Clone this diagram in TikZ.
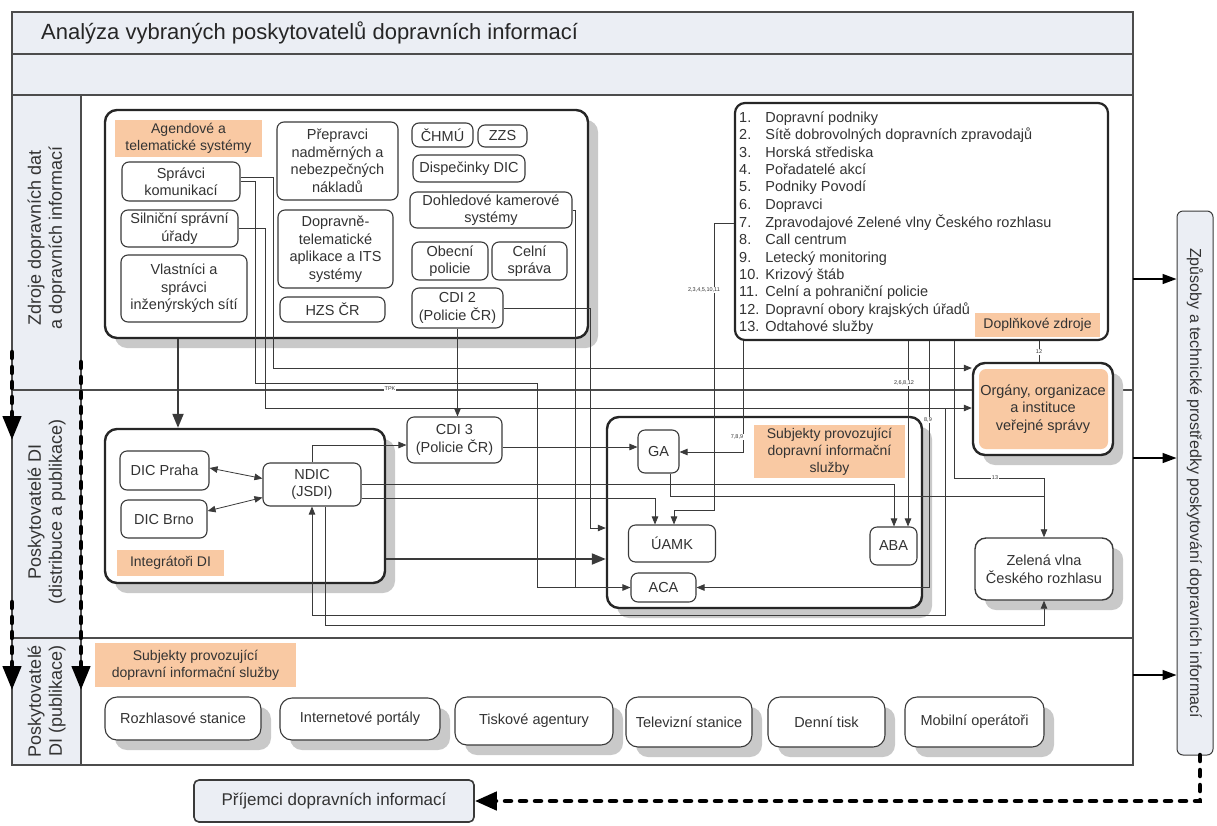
\documentclass[tikz,border=0pt]{standalone}
\usepackage{fontspec}
\setmainfont{Liberation Sans}
\usetikzlibrary{arrows.meta,shadows}
\definecolor{band}{HTML}{EBEEF4}
\definecolor{peach}{HTML}{F9C9A3}
\definecolor{txt}{HTML}{333333}
\definecolor{ln}{HTML}{3A3A3A}
\definecolor{shdcol}{HTML}{C9C9C9}
\tikzset{
 bx/.style={draw=ln, line width=1.1pt, rounded corners=7pt, fill=white, align=center, inner sep=0pt, text=txt, font=\fontsize{14.5}{17.5}\selectfont},
 cont/.style={draw=black!85, line width=2.4pt, rounded corners=12pt, fill=white, inner sep=0pt},
 dropsh/.style={general shadow={fill=shdcol, shadow xshift=10pt, shadow yshift=-10pt}},
 lbl/.style={fill=peach, inner sep=0pt, align=center, text=txt, font=\fontsize{14}{17}\selectfont},
 lb3/.style={bx, dropsh, rounded corners=12pt, font=\fontsize{14.5}{17}\selectfont},
 cn/.style={draw=ln, line width=0.8pt},
 tip/.style={-{Triangle[width=6.5pt,length=8pt]}},
 dtip/.style={{Triangle[width=6.5pt,length=8pt]}-{Triangle[width=6.5pt,length=8pt]}},
 tiny/.style={fill=white, inner sep=0.6pt, font=\fontsize{5.5}{6}\selectfont, text=txt},
 frm/.style={draw=black!70, line width=1.4pt},
 bigdash/.style={draw=black, line width=4.5pt, line cap=round, dash pattern=on 6pt off 9pt},
 bigtip/.style={-{Triangle[width=18pt,length=24pt]}},
 rarr/.style={draw=black, line width=1.5pt, -{Triangle[width=10pt,length=14pt]}},
 lane/.style={align=center, text=txt, font=\fontsize{18}{21}\selectfont},
}
\begin{document}
\begin{tikzpicture}[x=1pt,y=-1pt]
\useasboundingbox (0,0) rectangle (1217,825);

% frame and bands
\fill[band] (12,12) rectangle (1133,95);
\fill[band] (12,95) rectangle (81,765);
\draw[frm] (12,54) -- (1133,54);
\draw[frm] (12,95) -- (1133,95);
\draw[frm] (81,95) -- (81,765);
\draw[frm] (12,390) -- (1133,390);
\draw[frm] (12,638) -- (1133,638);
\draw[frm] (12,12) rectangle (1133,765);

\node[anchor=west, inner sep=0pt, text=black!85, font=\fontsize{22}{26}\selectfont] (title) at (41,33) {Analýza vybraných poskytovatelů dopravních informací};

% lane labels
\node[lane, rotate=90] (l1) at (46.5,238) {Zdroje dopravních dat\\a dopravních informací};
\node[lane, rotate=90] (l2) at (46.5,512) {Poskytovatelé DI\\(distribuce a publikace)};
\node[lane, rotate=90] (l3) at (46.5,701) {Poskytovatelé\\DI (publikace)};

% lane 1
\node[cont, dropsh, minimum width=483pt, minimum height=228pt] (agc) at (346.5,224) {};
\node[lbl, minimum width=147pt, minimum height=37pt] (lagt) at (188.5,138.5) {Agendové a\\telematické systémy};
\node[bx, minimum width=118pt, minimum height=39pt] (sk) at (181,181.5) {Správci\\komunikací};
\node[bx, minimum width=117pt, minimum height=37pt] (ssu) at (179.5,228.5) {Silniční správní\\úřady};
\node[bx, minimum width=126pt, minimum height=67pt] (vs) at (184,288.5) {Vlastníci a\\správci\\inženýrských sítí};
\node[bx, minimum width=121pt, minimum height=78pt] (pnn) at (337.5,161) {Přepravci\\nadměrných a\\nebezpečných\\nákladů};
\node[bx, minimum width=115pt, minimum height=78pt] (dta) at (335.5,249) {Dopravně-\\telematické\\aplikace a ITS\\systémy};
\node[bx, minimum width=105pt, minimum height=25pt] (hzs) at (332.5,309.5) {HZS ČR};
\node[bx, minimum width=61pt, minimum height=24pt] (chmu) at (442.5,135) {ČHMÚ};
\node[bx, minimum width=49pt, minimum height=22pt] (zzs) at (502.5,136) {ZZS};
\node[bx, minimum width=112pt, minimum height=27pt] (disp) at (469,168.5) {Dispečinky DIC};
\node[bx, minimum width=162pt, minimum height=36pt] (dks) at (491,210) {Dohledové kamerové\\systémy};
\node[bx, minimum width=76pt, minimum height=38pt] (op) at (450,261) {Obecní\\policie};
\node[bx, minimum width=75pt, minimum height=38pt] (cs) at (529.5,261) {Celní\\správa};
\node[bx, minimum width=91pt, minimum height=40pt] (cdi2) at (457.5,308) {CDI 2\\(Policie ČR)};

% list of supplementary sources
\node[draw=black!85, line width=2.2pt, rounded corners=10pt, fill=white, inner sep=0pt, minimum width=373pt, minimum height=237pt] (list) at (921.5,221.5) {};
\node[anchor=north west, inner sep=0pt, text=txt, font=\fontsize{14.5}{17.4}\selectfont] (listtxt) at (739,110) {\begin{tabular}{@{}l@{\hspace{6pt}}l@{}}
1. & Dopravní podniky\\
2. & Sítě dobrovolných dopravních zpravodajů\\
3. & Horská střediska\\
4. & Pořadatelé akcí\\
5. & Podniky Povodí\\
6. & Dopravci\\
7. & Zpravodajové Zelené vlny Českého rozhlasu\\
8. & Call centrum\\
9. & Letecký monitoring\\
10. & Krizový štáb\\
11. & Celní a pohraniční policie\\
12. & Dopravní obory krajských úřadů\\
13. & Odtahové služby
\end{tabular}};
\node[lbl, minimum width=125pt, minimum height=24pt] (dz) at (1037.5,325) {Doplňkové zdroje};

% public administration
\node[cont, dropsh, minimum width=140pt, minimum height=92pt] (org) at (1043,409) {};
\fill[peach, rounded corners=7pt] (979,369) rectangle (1108,449);
\node[align=center, text=txt, font=\fontsize{14.5}{17.5}\selectfont] (orgt) at (org.center) {Orgány, organizace\\a instituce\\veřejné správy};

% lane 2
\node[cont, dropsh, minimum width=280pt, minimum height=154pt] (integ) at (245,506) {};
\node[bx, minimum width=89pt, minimum height=39pt] (dicp) at (164.5,470.5) {DIC Praha};
\node[bx, minimum width=86pt, minimum height=38pt] (dicb) at (164,519) {DIC Brno};
\node[bx, minimum width=98pt, minimum height=43pt] (ndic) at (312,484.5) {NDIC\\(JSDI)};
\node[lbl, minimum width=107pt, minimum height=26pt] (lint) at (170.5,563) {Integrátoři DI};
\node[bx, minimum width=95pt, minimum height=46pt] (cdi3) at (454.5,440) {CDI 3\\(Policie ČR)};
\node[cont, dropsh, minimum width=315pt, minimum height=191pt] (subj) at (764.5,512.5) {};
\node[bx, minimum width=41pt, minimum height=43pt] (ga) at (658.5,451.5) {GA};
\node[lbl, minimum width=151pt, minimum height=53pt] (lsub) at (829.5,451.5) {Subjekty provozující\\dopravní informační\\služby};
\node[bx, minimum width=87pt, minimum height=37pt] (uamk) at (672,543.5) {ÚAMK};
\node[bx, minimum width=47pt, minimum height=38pt] (aba) at (893.5,546) {ABA};
\node[bx, minimum width=65pt, minimum height=29pt] (aca) at (663.5,587.5) {ACA};
\node[bx, dropsh, line width=1.4pt, rounded corners=11pt, minimum width=138pt, minimum height=62pt] (zv) at (1044,569) {Zelená vlna\\Českého rozhlasu};

% lane 3
\node[lbl, minimum width=201pt, minimum height=44pt] (lsub3) at (195.5,665) {Subjekty provozující\\dopravní informační služby};
\node[lb3, minimum width=156pt, minimum height=43pt] (r1) at (183,718.5) {Rozhlasové stanice};
\node[lb3, minimum width=160pt, minimum height=42pt] (r2) at (360,719) {Internetové portály};
\node[lb3, minimum width=158pt, minimum height=48pt] (r3) at (534,721) {Tiskové agentury};
\node[lb3, minimum width=126pt, minimum height=50pt] (r4) at (689,722) {Televizní stanice};
\node[lb3, minimum width=117pt, minimum height=50pt] (r5) at (826.5,722) {Denní tisk};
\node[lb3, minimum width=139pt, minimum height=50pt] (r6) at (974.5,722) {Mobilní operátoři};

% receivers and means
\node[draw=ln, line width=1.6pt, fill=band, rounded corners=5pt, inner sep=0pt, minimum width=280pt, minimum height=42pt, text=txt, font=\fontsize{17}{20}\selectfont] (prj) at (334,801) {Příjemci dopravních informací};
\node[draw=ln, line width=1pt, fill=band, rounded corners=6pt, inner sep=0pt, minimum width=36pt, minimum height=544pt] (zp) at (1195,483) {};
\node[rotate=-90, text=txt, font=\fontsize{16}{19}\selectfont] (zpt) at (zp.center) {Způsoby a technické prostředky poskytování dopravních informací};

% connectors
\draw[cn, line width=2pt, -{Triangle[width=11pt,length=14pt]}] ([xshift=-168.5pt]agc.south) -- ([xshift=-67pt]integ.north);
\draw[cn, line width=2pt, -{Triangle[width=11pt,length=14pt]}] ([yshift=-53pt]integ.east) -- ([yshift=-46.5pt]subj.west);
\draw[cn, tip] ([yshift=4.5pt]sk.east) -- (273,177) -- (273,368) -- ([yshift=41pt]org.west);
\draw[cn, tip] (ssu.east) -- (265,228.5) -- (265,408) -- ([yshift=1pt]org.west);
\draw[cn, tip] (sk.east) -- (255,181.5) -- (255,383) -- (537,383) -- (537,587.5) -- (aca.west);
\draw[cn] (dks.east) -- (575,210) -- (575,587.5);
\draw[cn, tip] (cdi2.south) -- ([xshift=3pt]cdi3.north);
\draw[cn, tip] (cdi2.east) -- (590,308) -- (590,528) -- ([yshift=-15.5pt]subj.west);
\draw[cn, tip] (ndic.north) -- (312,445) -- ([yshift=-5pt]cdi3.west);
\draw[cn, tip] ([yshift=-7pt]cdi3.east) -- ([yshift=4.5pt]ga.west);
\draw[cn, dtip] ([yshift=2.5pt]dicp.east) -- ([yshift=6pt]ndic.west);
\draw[cn, dtip] ([yshift=8pt]dicb.east) -- ([yshift=-13pt]ndic.west);
\draw[cn, tip] (ndic.east) -- (894,484.5) -- ([xshift=0.5pt]aba.north);
\draw[cn, tip] ([yshift=-13.5pt]ndic.east) -- (655,498) -- ([xshift=-17pt]uamk.north);
\draw[cn] ([xshift=11.5pt]ga.south) -- (670,496) -- (1044,496);
\draw[cn, tip] ([xshift=32.5pt]list.south) -- (954,478) -- (1044,478) -- (zv.north);
\draw[cn, tip] ([yshift=-1.5pt]list.west) -- (714,223) -- (714,510) -- (674,510) -- ([xshift=2pt]uamk.north);
\draw[cn, tip] ([xshift=-178.5pt]list.south) -- (743,452) -- ([yshift=-0.5pt]ga.east);
\draw[cn, tip] ([xshift=-13.5pt]list.south) -- ([xshift=14.5pt]aba.north);
\draw[cn, tip] ([xshift=7.5pt]list.south) -- (929,587.5) -- (aca.east);
\draw[cn] ([xshift=117.5pt]list.south) -- ([xshift=-4pt]org.north);
\coordinate (u0) at (945,408);
\draw[cn, tip] (u0) -- (945,615) -- (312,615) -- (ndic.south);
\draw[cn, tip] ([xshift=13pt]ndic.south) -- (325,625) -- (1044,625) -- (zv.south);

% small connector labels
\node[tiny] (t1) at (704,290) {2,3,4,5,10,11};
\node[tiny] (t2) at (737,437) {7,8,9};
\node[tiny] (t3) at (904,383) {2,6,8,12};
\node[tiny] (t4) at (928,420) {8,9};
\node[tiny] (t5) at (1039,352) {12};
\node[tiny] (t6) at (995,478) {13};
\node[tiny] (t7) at (390,389) {TPK};

% arrows to the means box
\coordinate (f1) at (1133,279);
\coordinate (f2) at (1133,458);
\coordinate (f3) at (1133,675);
\draw[rarr] (f1) -- (f1 -| zp.west);
\draw[rarr] (f2) -- (f2 -| zp.west);
\draw[rarr] (f3) -- (f3 -| zp.west);

% thick dashed flows
\coordinate (d1a) at (12,352);
\coordinate (d1b) at (12,440);
\coordinate (d2a) at (81,362);
\coordinate (d2b) at (81,690);
\coordinate (d3a) at (12,602);
\coordinate (d3b) at (12,690);
\draw[bigdash, bigtip] (d1a) -- (d1b);
\draw[bigdash, bigtip] (d2a) -- (d2b);
\draw[bigdash, bigtip] (d3a) -- (d3b);
\coordinate (bd0) at (1200,755);
\coordinate (bd1) at (1200,801);
\draw[bigdash, -{Triangle[width=18pt,length=22pt]}] (bd0) -- (bd1) -- (prj.east);
\end{tikzpicture}
\end{document}
